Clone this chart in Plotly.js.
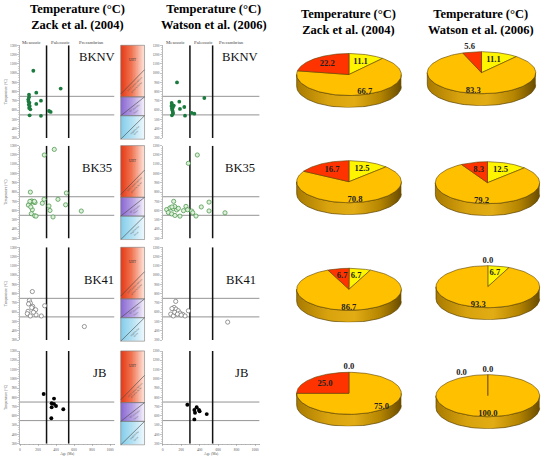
<!DOCTYPE html>
<html><head><meta charset="utf-8">
<script src="https://cdn.plot.ly/plotly-3.0.1.min.js"></script>
<style>html,body{margin:0;padding:0;background:#fff}#chart{width:550px;height:463px}</style>
</head><body><div id="chart"></div>
<script>
// ================= DATA =================
const sampleNames = ['BKNV', 'BK35', 'BK41', 'JB'];
const studyNames = ['Zack et al. (2004)', 'Watson et al. (2006)'];
const tempLimits = [550, 750];          // °C class limits
const eraBounds = [295, 541];           // Ma, Mesozoic/Paleozoic/Precambrian
const eraNames = ['Mesozoic', 'Paleozoic', 'Precambrian'];

const zackBKNVAge  = [148, 452, 100, 181, 233, 181, 100, 92, 95, 105, 98, 108, 102, 115, 107, 233, 322, 341];
const zackBKNVTemp = [1026, 834, 768, 789, 703, 668, 740, 715, 695, 680, 660, 645, 625, 610, 545, 540, 592, 582];
const watsonBKNVAge  = [155, 451, 180, 97, 234, 187, 100, 95, 110, 100, 105, 110, 112, 120, 242, 100, 314, 343];
const watsonBKNVTemp = [900, 732, 692, 678, 635, 614, 660, 645, 630, 620, 600, 580, 565, 650, 542, 545, 571, 563];

const zackBK35Age  = [270, 381, 115, 515, 422, 267, 130, 148, 167, 104, 93, 137, 248, 322, 333, 507, 126, 681, 110, 160, 120, 163, 178, 367];
const zackBK35Temp = [1200, 1260, 800, 790, 722, 722, 705, 694, 687, 667, 660, 610, 680, 650, 602, 663, 567, 596, 700, 700, 640, 545, 541, 532];
const watsonBK35Age  = [375, 278, 119, 502, 418, 502, 43, 79, 115, 151, 61, 97, 252, 270, 314, 325, 675, 130, 100, 170, 225, 133, 187, 361];
const watsonBK35Temp = [1200, 1110, 700, 692, 640, 597, 612, 630, 620, 608, 580, 565, 646, 610, 596, 578, 577, 645, 640, 625, 600, 548, 541, 542];

const zackBK41Age  = [137, 715, 104, 115, 141, 174, 89, 81, 178, 237, 115, 274, 130, 95, 150];
const zackBK41Temp = [823, 446, 727, 699, 663, 627, 610, 585, 572, 560, 560, 670, 650, 690, 600];
const watsonBK41Age  = [704, 141, 123, 144, 169, 188, 217, 87, 115, 242, 278, 100, 130, 160, 200];
const watsonBK41Temp = [494, 717, 652, 634, 616, 591, 577, 580, 560, 560, 616, 640, 600, 580, 570];

const zackJBAge  = [263, 378, 352, 378, 400, 352, 481, 348];
const zackJBTemp = [836, 787, 737, 730, 708, 694, 673, 576];
const watsonJBAge  = [267, 368, 393, 343, 350, 477, 343, 400];
const watsonJBTemp = [720, 694, 665, 665, 635, 620, 563, 650];

// pie percentages per sample (order BKNV, BK35, BK41, JB)
const zackYellowPct  = [11.1, 12.5, 6.7, 0.0];
const zackOrangePct  = [66.7, 70.8, 86.7, 75.0];
const zackRedPct     = [22.2, 16.7, 6.7, 25.0];
const watsonYellowPct = [11.1, 12.5, 6.7, 0.0];
const watsonOrangePct = [83.3, 79.2, 93.3, 100.0];
const watsonRedPct    = [5.6, 8.3, 0.0, 0.0];

// ================= LAYOUT HELPERS =================
const W = 550, H = 463;
const X = px => px / W;
const Y = py => 1 - py / H;
const sfx = k => (k === 1 ? '' : String(k));
const serif = 'Liberation Serif';

const layout = {
  width: W, height: H, margin: {l: 0, r: 0, t: 0, b: 0},
  paper_bgcolor: '#ffffff', plot_bgcolor: 'rgba(0,0,0,0)',
  showlegend: false, font: {family: serif, color: '#000'},
  shapes: [], annotations: []
};
const traces = [];

// scatter panels geometry
const rowTop = [45.3, 145.7, 247.3, 351];
const rowH = 92.8;
const colX0 = [20, 162.7];
const colScale = [0.09, 0.0923];
const xMax = 1050;

const scatterSets = [
  [[zackBKNVAge, zackBKNVTemp], [watsonBKNVAge, watsonBKNVTemp]],
  [[zackBK35Age, zackBK35Temp], [watsonBK35Age, watsonBK35Temp]],
  [[zackBK41Age, zackBK41Temp], [watsonBK41Age, watsonBK41Temp]],
  [[zackJBAge, zackJBTemp], [watsonJBAge, watsonJBTemp]]
];
const markerStyles = [
  {color: '#1B7A3E', size: 3.8, line: {width: 0}},
  {color: '#DDF0DA', size: 4.2, line: {color: '#3F8F3F', width: 0.7}},
  {color: '#FFFFFF', size: 4.2, line: {color: '#6E6E6E', width: 0.7}},
  {color: '#000000', size: 3.9, line: {width: 0}}
];
const labelPos = [[[852, 1175], [837, 1175]], [[856, 1057], [834, 1057]], [[876, 948], [848, 948]], [[878, 1063], [856, 1063]]];
const eraLabelX = [[125, 445, 790], [135, 440, 750]];

for (let r = 0; r < 4; r++) {
  for (let c = 0; c < 2; c++) {
    const k = r * 2 + c + 1, s = sfx(k);
    const yd = [Y(rowTop[r] + rowH), Y(rowTop[r])];
    const xd = [X(colX0[c]), X(colX0[c] + xMax * colScale[c])];
    const bottom = r === 3;
    layout['xaxis' + s] = {
      domain: xd, range: [0, xMax], anchor: 'y' + s, showgrid: false, zeroline: false,
      showline: bottom, linecolor: '#888', linewidth: 0.6,
      ticks: bottom ? 'outside' : '', ticklen: 2, tickcolor: '#888', tickwidth: 0.5,
      tick0: 0, dtick: 200, showticklabels: bottom,
      tickfont: {family: serif, size: 3.6, color: '#555'},
      minor: bottom ? {ticks: 'outside', ticklen: 1, dtick: 50, tickcolor: '#999', tickwidth: 0.4} : undefined,
      title: bottom ? {text: 'Age (Ma)', font: {family: serif, size: 3.6, color: '#555'}, standoff: 1} : undefined,
      fixedrange: true
    };
    layout['yaxis' + s] = {
      domain: yd, range: [300, 1300], anchor: 'x' + s, showgrid: false, zeroline: false,
      showline: true, linecolor: '#888', linewidth: 0.6,
      ticks: 'outside', ticklen: 2, tickcolor: '#888', tickwidth: 0.5,
      tick0: 300, dtick: 100, tickfont: {family: serif, size: 3.4, color: '#555'},
      minor: {ticks: 'outside', ticklen: 1, dtick: 25, tickcolor: '#999', tickwidth: 0.4},
      title: c === 0 ? {text: 'Temperature (°C)', font: {family: serif, size: 3.6, color: '#555'}, standoff: 2} : undefined,
      fixedrange: true
    };
    const [ages, temps] = scatterSets[r][c];
    traces.push({
      type: 'scatter', mode: 'markers', x: ages, y: temps,
      xaxis: 'x' + s, yaxis: 'y' + s, marker: markerStyles[r], hoverinfo: 'skip', cliponaxis: false
    });
    tempLimits.forEach(t => layout.shapes.push({
      type: 'line', xref: 'x' + s, yref: 'y' + s, x0: 0, x1: xMax, y0: t, y1: t,
      line: {color: '#777', width: 0.8}, layer: 'below'
    }));
    eraBounds.forEach(a => layout.shapes.push({
      type: 'line', xref: 'x' + s, yref: 'y' + s, x0: a, x1: a, y0: 300, y1: 1300,
      line: {color: '#111', width: 1.5}, layer: 'below'
    }));
    layout.annotations.push({
      xref: 'x' + s, yref: 'y' + s, x: labelPos[r][c][0], y: labelPos[r][c][1],
      text: sampleNames[r], showarrow: false, font: {family: serif, size: 12.6, color: '#111'}
    });
    if (r === 0) {
      eraNames.forEach((n, i) => layout.annotations.push({
        xref: 'x' + s, yref: 'paper', x: eraLabelX[c][i], y: Y(37.8), text: n, showarrow: false,
        font: {family: serif, size: 4.8, color: '#444'}
      }));
    }
  }
}

// ================= COLOURED FACIES BARS =================
const N = 40;
const xEdges = Array.from({length: N + 1}, (_, i) => i / N);
const zRow = [Array.from({length: N}, (_, i) => i)];
const barSections = [
  {y: [tempLimits[1], 1300], cs: [[0, '#E63A16'], [0.45, '#F07452'], [1, '#FDE6DC']], diag: [780, 1040], txt: ['UHT metamorphism', 'granulite facies']},
  {y: [tempLimits[0], tempLimits[1]], cs: [[0, '#8A69D4'], [0.5, '#B8A2E4'], [1, '#F5F2FB']], diag: [tempLimits[0], tempLimits[1]], txt: ['HT granulite', 'facies']},
  {y: [300, tempLimits[0]], cs: [[0, '#84CDE9'], [0.5, '#B6E2F3'], [1, '#EFF9FD']], diag: [300, tempLimits[0]], txt: ['amphibolite', 'facies']}
];
for (let r = 0; r < 4; r++) {
  const k = 9 + r, s = sfx(k);
  layout['xaxis' + s] = {domain: [X(120), X(145.3)], range: [-0.03, 1.03], anchor: 'y' + s, visible: false, fixedrange: true};
  layout['yaxis' + s] = {domain: [Y(rowTop[r] + rowH + 2), Y(rowTop[r] - 1)], range: [290, 1310], anchor: 'x' + s, visible: false, fixedrange: true};
  barSections.forEach(sec => {
    traces.push({type: 'heatmap', xaxis: 'x' + s, yaxis: 'y' + s, x: xEdges, y: sec.y, z: zRow,
      colorscale: sec.cs, zmin: 0, zmax: N - 1, showscale: false, hoverinfo: 'skip'});
    layout.shapes.push({type: 'rect', xref: 'x' + s, yref: 'y' + s, x0: 0, x1: 1, y0: sec.y[0], y1: sec.y[1],
      line: {color: '#777', width: 0.6}});
    layout.shapes.push({type: 'line', xref: 'x' + s, yref: 'y' + s, x0: 0, x1: 1, y0: sec.diag[0], y1: sec.diag[1],
      line: {color: '#444', width: 0.6}});
    const ang = -Math.atan2((sec.diag[1] - sec.diag[0]) * rowH / 1000, 25.3) * 180 / Math.PI;
    sec.txt.forEach((t, j) => layout.annotations.push({
      xref: 'x' + s, yref: 'y' + s, x: 0.5 + 0.08 * (j + 1), y: (sec.diag[0] + sec.diag[1]) / 2 - (j + 1) * 28,
      text: t, textangle: ang, showarrow: false, font: {family: serif, size: 2.4, color: '#555'}
    }));
  });
  layout.annotations.push({xref: 'x' + s, yref: 'y' + s, x: 0.5, y: 1140, text: 'UHT', showarrow: false,
    font: {family: serif, size: 3.4, color: '#333'}});
}

// ================= 3-D PIES =================
const pieSets = [[zackYellowPct, zackOrangePct, zackRedPct], [watsonYellowPct, watsonOrangePct, watsonRedPct]];
const sliceColors = ['#FFF500', '#FFC000', '#FF3300'];
const sideScales = [
  [[0, '#A89C00'], [0.35, '#DCD20A'], [0.6, '#E2D814'], [0.85, '#B0A400'], [1, '#6A6000']],
  [[0, '#A87A00'], [0.3, '#D9A30E'], [0.55, '#E2AC14'], [0.8, '#B58500'], [1, '#6A4C00']],
  [[0, '#A02000'], [0.35, '#D83010'], [0.6, '#E03818'], [0.85, '#A82000'], [1, '#601000']]
];
const pieCX = [[349, 481.5], [349, 490], [349, 490.7], [349, 490.7]];
const pieCY = [[74.5, 72.7], [181.7, 182.7], [289.3, 286.7], [393.3, 395.7]];
const pieRX = [52.3, 54.2];
const pieRY = 21, pieT = 12, pieTopPad = 1.5;
const rad = d => d * Math.PI / 180;
const outline = '#5A4200';

for (let r = 0; r < 4; r++) {
  for (let c = 0; c < 2; c++) {
    const k = 13 + r * 2 + c, s = sfx(k);
    const cx = pieCX[r][c], cy = pieCY[r][c], rx = pieRX[c];
    const Tn = pieT / pieRY;
    layout['xaxis' + s] = {domain: [X(cx - rx * 1.2), X(cx + rx * 1.2)], range: [-1.2, 1.2], anchor: 'y' + s, visible: false, fixedrange: true};
    layout['yaxis' + s] = {domain: [Y(cy + pieRY + pieT), Y(cy - pieRY * pieTopPad)], range: [-1 - Tn, pieTopPad], anchor: 'x' + s, visible: false, fixedrange: true};
    const src = pieSets[c];
    const vals = [src[0][r], src[1][r], src[2][r]];
    let acc = 0;
    const slices = vals.map((v, i) => { const a0 = acc; acc += v * 3.6; return {v, i, a0, a1: acc}; });
    // side walls (front half)
    slices.forEach(sl => {
      const s0 = Math.max(sl.a0, 90), s1 = Math.min(sl.a1, 270);
      if (s1 <= s0) return;
      const xs = [], ys = [];
      const st = Math.max((s1 - s0) / 60, 0.5);
      for (let a = s0; a <= s1 + 1e-9; a += st) { xs.push(Math.sin(rad(a))); ys.push(Math.cos(rad(a))); }
      for (let a = s1; a >= s0 - 1e-9; a -= st) { xs.push(Math.sin(rad(a))); ys.push(Math.cos(rad(a)) - Tn); }
      traces.push({type: 'scatter', mode: 'lines', x: xs, y: ys, fill: 'toself', xaxis: 'x' + s, yaxis: 'y' + s,
        fillgradient: {type: 'horizontal', start: -1, stop: 1, colorscale: sideScales[sl.i]},
        line: {color: outline, width: 0.7}, hoverinfo: 'skip'});
    });
    // top face
    slices.forEach(sl => {
      if (sl.v <= 0) return;
      const xs = [0], ys = [0];
      const step = Math.max((sl.a1 - sl.a0) / 90, 0.5);
      for (let a = sl.a0; a <= sl.a1 + 1e-9; a += step) { xs.push(Math.sin(rad(a))); ys.push(Math.cos(rad(a))); }
      xs.push(Math.sin(rad(sl.a1))); ys.push(Math.cos(rad(sl.a1)));
      xs.push(0); ys.push(0);
      traces.push({type: 'scatter', mode: 'lines', x: xs, y: ys, fill: 'toself', fillcolor: sliceColors[sl.i],
        xaxis: 'x' + s, yaxis: 'y' + s, line: {color: outline, width: 0.6}, hoverinfo: 'skip'});
    });
    // value labels
    const lx = [], ly = [], lt = [];
    slices.forEach(sl => {
      let m = (sl.a0 + sl.a1) / 2;
      let rr = sl.v < 6 ? 1.25 : (sl.v >= 50 ? 0.88 : 0.65);
      if (sl.v === 0 && sl.i === 2 && slices[0].v === 0) { m = -25; rr = 1.2; }
      lx.push(rr * Math.sin(rad(m))); ly.push(rr * Math.cos(rad(m))); lt.push(sl.v.toFixed(1));
    });
    traces.push({type: 'scatter', mode: 'text', x: lx, y: ly, text: lt, xaxis: 'x' + s, yaxis: 'y' + s,
      cliponaxis: false, textposition: 'middle center', hoverinfo: 'skip',
      textfont: {family: serif, size: 8.6, color: '#222', weight: 'bold'}});
  }
}

// ================= TITLES =================
const titleX = [77, 214, 348, 481];
const titleTop = [0.5, 0.5, 4.5, 4.5];
titleX.forEach((tx, i) => layout.annotations.push({
  xref: 'paper', yref: 'paper', x: X(tx), y: Y(titleTop[i]), xanchor: 'center', yanchor: 'top',
  text: 'Temperature (°C)<br>' + studyNames[i % 2], showarrow: false, align: 'center',
  font: {family: serif, size: 12.5, color: '#000', weight: 'bold'}
}));

Plotly.newPlot('chart', traces, layout, {staticPlot: true, displayModeBar: false});
</script>
</body></html>
